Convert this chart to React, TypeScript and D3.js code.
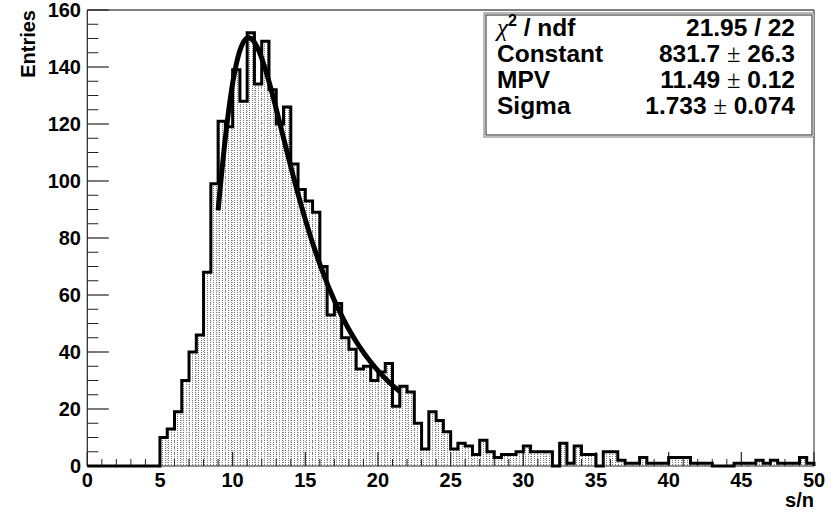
import React, { useMemo } from 'react';
import * as d3 from 'd3';

// Histogram: 100 bins of width 0.5 from 0 to 50 (s/n)
const binEdgesStart = 0;
const binWidth = 0.5;
const counts: number[] = [
  0, 0, 0, 0, 0, 0, 0, 0, 0, 0,
  10, 13, 19, 30, 40, 46, 68, 99, 121, 119,
  139, 128, 152, 134, 149, 132, 120, 126, 106, 97,
  93, 89, 70, 53, 57, 45, 41, 34, 35, 30,
  33, 36, 21, 28, 26, 15, 6, 19, 16, 12,
  6, 8, 7, 4, 9, 5, 3, 4, 4, 5,
  7, 5, 5, 5, 0, 8, 1, 7, 4, 4,
  0, 5, 5, 2, 1, 1, 3, 1, 1, 1,
  3, 3, 3, 1, 1, 1, 0, 0, 0, 1,
  1, 1, 2, 1, 2, 1, 1, 1, 3, 1,
];

// Landau fit parameters (from stats box)
const fitConstant = 831.7;
const fitMPV = 11.49;
const fitSigma = 1.733;
const fitRange = [9, 21.5];

const xTicks = [0, 5, 10, 15, 20, 25, 30, 35, 40, 45, 50];
const yTicks = [0, 20, 40, 60, 80, 100, 120, 140, 160];

const statLabels = ['/ ndf', 'Constant', 'MPV', 'Sigma'];
const statValues = [['21.95 / 22', ''], ['831.7', '26.3'], ['11.49', '0.12'], ['1.733', '0.074']];

const W = 837;
const H = 513;
const FONT = '"Liberation Sans", Arial, Helvetica, sans-serif';
const SERIF = '"Liberation Serif", "Times New Roman", serif';

function landauPdf(l: number): number {
  const T = 30;
  const n = 15000;
  const h = T / n;
  const f = (t: number) => (t <= 0 ? 0 : Math.exp(-t * Math.log(t) - l * t) * Math.sin(Math.PI * t));
  let s = f(0) + f(T);
  for (let i = 1; i < n; i++) s += (i % 2 ? 4 : 2) * f(i * h);
  return (s * h) / 3 / Math.PI;
}

export default function App() {
  const x = d3.scaleLinear().domain([0, 50]).range([87.3, 814]);
  const y = d3.scaleLinear().domain([0, 160]).range([466, 10]);

  const edges = counts.map((_, i) => binEdgesStart + i * binWidth);

  let outline = `M${x(0)},${y(0)}`;
  counts.forEach((c, i) => {
    outline += `V${y(c)}H${x(edges[i] + binWidth)}`;
  });
  outline += `V${y(0)}`;
  const fillPath = outline + 'Z';

  const fitPts = useMemo(() => {
    const pts: [number, number][] = [];
    const N = 160;
    for (let i = 0; i <= N; i++) {
      const xv = fitRange[0] + ((fitRange[1] - fitRange[0]) * i) / N;
      pts.push([xv, fitConstant * landauPdf((xv - fitMPV) / fitSigma)]);
    }
    return pts;
  }, []);
  const fitLine = d3
    .line<[number, number]>()
    .x((d) => x(d[0]))
    .y((d) => y(d[1]))(fitPts) as string;

  const edgeLines = counts.slice(0, -1).map((c, i) => {
    const h = Math.min(c, counts[i + 1]);
    return { xv: edges[i] + binWidth, h };
  }).filter((d) => d.h > 0);

  const xMinor = d3.range(0, 51, 1).filter((v) => v % 5 !== 0);
  const yMinor = d3.range(0, 161, 5).filter((v) => v % 20 !== 0);

  const box = { x0: 484, y0: 13, x1: 814, y1: 137 };
  const rowBase = [36, 62, 88, 114];

  return (
    <svg width={W} height={H} style={{ position: 'absolute', left: 0, top: 0, display: 'block', background: '#fff' }}>
      <defs>
        <pattern id="dots" width={3} height={2} patternUnits="userSpaceOnUse">
          <rect width={3} height={2} fill="#fff" />
          <rect x={0} y={0} width={1} height={1} fill="#7a7a7a" />
        </pattern>
      </defs>
      <rect width={W} height={H} fill="#fff" />

      {/* histogram fill */}
      <path d={fillPath} fill="url(#dots)" stroke="none" />
      {edgeLines.map((d, i) => (
        <line key={i} x1={x(d.xv)} x2={x(d.xv)} y1={y(0)} y2={y(d.h)} stroke="#888" strokeWidth={1} strokeDasharray="1 2" />
      ))}

      {/* frame */}
      <line x1={x(0)} x2={x(50)} y1={y(160)} y2={y(160)} stroke="#555" strokeWidth={1.3} />
      <line x1={x(50)} x2={x(50)} y1={y(160)} y2={y(0)} stroke="#222" strokeWidth={1} />

      {/* y axis */}
      <line x1={x(0)} x2={x(0)} y1={y(0)} y2={y(160)} stroke="#222" strokeWidth={1.2} />
      {yTicks.map((v) => (
        <g key={v}>
          <line x1={x(0)} x2={x(0) + 21.5} y1={y(v)} y2={y(v)} stroke="#222" strokeWidth={1.2} />
          <text x={81} y={y(v)} dy="0.36em" textAnchor="end" fontFamily={FONT} fontWeight="bold" fontSize={20} fill="#000">
            {v}
          </text>
        </g>
      ))}
      {yMinor.map((v) => (
        <line key={v} x1={x(0)} x2={x(0) + 11} y1={y(v)} y2={y(v)} stroke="#222" strokeWidth={1} />
      ))}

      {/* x axis */}
      <line x1={x(0)} x2={x(50)} y1={y(0)} y2={y(0)} stroke="#222" strokeWidth={1.2} />
      {xTicks.map((v) => (
        <g key={v}>
          <line x1={x(v)} x2={x(v)} y1={y(0)} y2={y(0) - 14} stroke="#222" strokeWidth={1.2} />
          <text x={x(v)} y={487} textAnchor="middle" fontFamily={FONT} fontWeight="bold" fontSize={20} fill="#000">
            {v}
          </text>
        </g>
      ))}
      {xMinor.map((v) => (
        <line key={v} x1={x(v)} x2={x(v)} y1={y(0)} y2={y(0) - 7} stroke="#222" strokeWidth={1} />
      ))}

      {/* histogram outline */}
      <path d={outline} fill="none" stroke="#000" strokeWidth={3} strokeLinejoin="miter" />

      {/* fit */}
      <path d={fitLine} fill="none" stroke="#000" strokeWidth={5} strokeLinecap="butt" strokeLinejoin="round" />

      {/* axis titles */}
      <text transform="translate(35,10) rotate(-90)" textAnchor="end" fontFamily={FONT} fontWeight="bold" fontSize={20} fill="#000">
        Entries
      </text>
      <text x={814} y={507} textAnchor="end" fontFamily={FONT} fontWeight="bold" fontSize={20} fill="#000">
        s/n
      </text>

      {/* stats box */}
      <rect x={box.x0} y={box.y0} width={box.x1 - box.x0} height={box.y1 - box.y0} fill="#fff" stroke="#777" strokeWidth={1} />
      <rect x={box.x0 + 2} y={box.y0 + 2} width={box.x1 - box.x0 - 4} height={box.y1 - box.y0 - 4} fill="none" stroke="#222" strokeWidth={1} />
      {statLabels.map((lab, i) => (
        <text key={'l' + i} x={497} y={rowBase[i]} fontFamily={FONT} fontWeight="bold" fontSize={24.5} fill="#000">
          {i === 0 ? (
            <>
              <tspan fontFamily={SERIF} fontWeight="normal" fontStyle="italic" fontSize={25}>χ</tspan>
              <tspan fontSize={16} dy={-10}>2</tspan>
              <tspan dy={10}> {lab}</tspan>
            </>
          ) : (
            lab
          )}
        </text>
      ))}
      {statValues.map((v, i) => (
        <text key={'v' + i} x={795} y={rowBase[i]} textAnchor="end" fontFamily={FONT} fontWeight="bold" fontSize={24.5} fill="#000">
          {v[1] === '' ? (
            v[0]
          ) : (
            <>
              <tspan>{v[0]} </tspan>
              <tspan fontFamily={SERIF} fontWeight="normal">±</tspan>
              <tspan> {v[1]}</tspan>
            </>
          )}
        </text>
      ))}
    </svg>
  );
}
